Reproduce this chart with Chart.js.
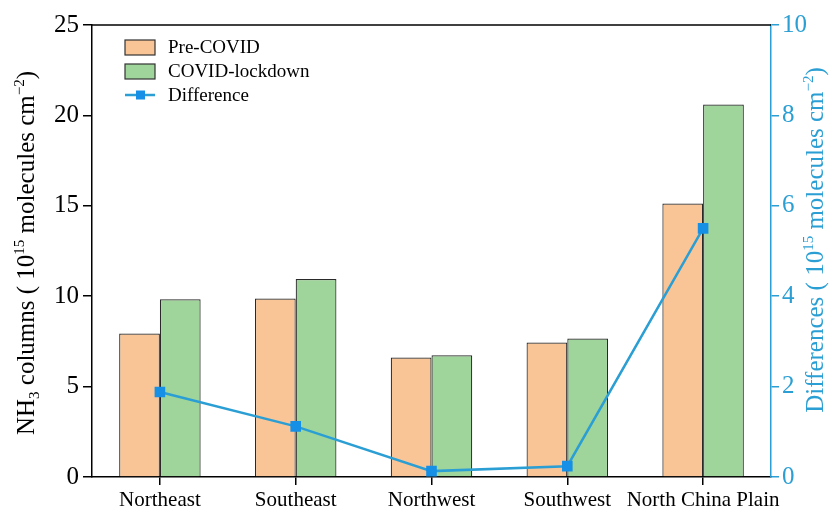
<!DOCTYPE html>
<html>
<head>
<meta charset="utf-8">
<script src="https://cdn.jsdelivr.net/npm/chart.js@4.4.1/dist/chart.umd.min.js"></script>
<style>
  html, body { margin: 0; padding: 0; background: #fff; }
  #wrap { width: 829px; height: 510px; position: relative; }
</style>
</head>
<body>
<div id="wrap"><canvas id="c" width="829" height="510"></canvas></div>
<script>
const categories = ['Northeast', 'Southeast', 'Northwest', 'Southwest', 'North China Plain'];
const preCovid = [7.94, 9.87, 6.61, 7.44, 15.13];
const covidLockdown = [9.83, 10.95, 6.73, 7.66, 20.6];
const difference = [1.88, 1.12, 0.13, 0.24, 5.5];
const leftTicks = [0, 5, 10, 15, 20, 25];
const rightTicks = [0, 2, 4, 6, 8, 10];
const leftTitle = [['NH', 0], ['3', -1], [' columns ( 10', 0], ['15', 1], [' molecules cm', 0], ['−2', 1], [')', 0]];
const rightTitle = [['Differences ( 10', 0], ['15', 1], [' molecules cm', 0], ['−2', 1], [')', 0]];

const SERIF = '"Liberation Serif", "Times New Roman", serif';
const BLUE = '#2b9fd4';
const PRE_COLOR = '#f9c597';
const GREEN_COLOR = '#9fd59a';

function drawRich(ctx, parts, cx, cy, size, color) {
  const small = Math.round(size * 0.6);
  ctx.save();
  ctx.translate(cx, cy);
  ctx.rotate(-Math.PI / 2);
  ctx.fillStyle = color;
  ctx.textBaseline = 'alphabetic';
  let total = 0;
  const widths = parts.map(([t, k]) => {
    ctx.font = (k ? small : size) + 'px ' + SERIF;
    const w = ctx.measureText(t).width;
    total += w;
    return w;
  });
  let x = -total / 2;
  const base = size * 0.33;
  parts.forEach(([t, k], i) => {
    ctx.font = (k ? small : size) + 'px ' + SERIF;
    const dy = k === 1 ? -size * 0.42 : (k === -1 ? size * 0.2 : 0);
    ctx.fillText(t, x, base + dy);
    x += widths[i];
  });
  ctx.restore();
}

const framePlugin = {
  id: 'frame',
  afterDatasetsDraw(chart) {
    const ctx = chart.ctx, a = chart.chartArea;
    ctx.save();
    ctx.strokeStyle = '#000';
    ctx.lineWidth = 1.5;
    ctx.beginPath();
    ctx.moveTo(a.left, a.top);
    ctx.lineTo(a.right, a.top);
    ctx.stroke();
    // legend
    const x0 = a.left + 33;
    const rows = [a.top + 22.5, a.top + 46.5, a.top + 70];
    const ds = chart.data.datasets;
    ctx.font = '19px ' + SERIF;
    ctx.textBaseline = 'middle';
    for (let i = 0; i < 2; i++) {
      ctx.fillStyle = ds[i].backgroundColor;
      ctx.fillRect(x0, rows[i] - 7.5, 30, 15);
      ctx.strokeStyle = '#333';
      ctx.lineWidth = 1.2;
      ctx.strokeRect(x0, rows[i] - 7.5, 30, 15);
      ctx.fillStyle = '#000';
      ctx.fillText(ds[i].label, x0 + 43, rows[i] + 1);
    }
    ctx.strokeStyle = BLUE;
    ctx.lineWidth = 2.5;
    ctx.beginPath();
    ctx.moveTo(x0, rows[2]);
    ctx.lineTo(x0 + 30, rows[2]);
    ctx.stroke();
    ctx.fillStyle = '#1590e6';
    ctx.fillRect(x0 + 11, rows[2] - 4.5, 9, 9);
    ctx.fillStyle = '#000';
    ctx.fillText(ds[2].label, x0 + 43, rows[2] + 1);
    ctx.restore();
  },
  afterDraw(chart) {
    const ctx = chart.ctx;
    drawRich(ctx, leftTitle, 26, 253, 25, '#000');
    drawRich(ctx, rightTitle, 815, 240, 25, BLUE);
  }
};

new Chart(document.getElementById('c'), {
  type: 'bar',
  data: {
    labels: categories,
    datasets: [
      { label: 'Pre-COVID', data: preCovid, backgroundColor: PRE_COLOR, borderColor: '#2a2a2a', borderWidth: 1.2, yAxisID: 'y', order: 2 },
      { label: 'COVID-lockdown', data: covidLockdown, backgroundColor: GREEN_COLOR, borderColor: '#2a2a2a', borderWidth: 1.2, yAxisID: 'y', order: 2 },
      { type: 'line', label: 'Difference', data: difference, borderColor: BLUE, borderWidth: 2.5,
        pointStyle: 'rect', pointRadius: 7.5, pointBackgroundColor: '#1590e6', pointBorderWidth: 0,
        yAxisID: 'y1', order: 0, tension: 0 }
    ]
  },
  options: {
    responsive: false,
    animation: false,
    devicePixelRatio: 1,
    layout: { padding: { left: 11, right: 0, top: 25, bottom: 0 } },
    categoryPercentage: 0.6,
    barPercentage: 1.0,
    plugins: { legend: { display: false }, tooltip: { enabled: false } },
    scales: {
      x: {
        grid: { display: true, drawOnChartArea: false, drawTicks: true, tickLength: 8, color: '#000', offset: false, lineWidth: 1.5 },
        border: { color: '#000', width: 1.5 },
        ticks: { color: '#000', font: { family: SERIF, size: 21 }, padding: 3, maxRotation: 0, autoSkip: false },
        afterFit(s) { s.height = 33; }
      },
      y: {
        position: 'left',
        min: 0, max: 25,
        afterBuildTicks(s) { s.ticks = leftTicks.map(v => ({ value: v })); },
        grid: { display: true, drawOnChartArea: false, drawTicks: true, tickLength: 9, color: '#000', lineWidth: 1.5 },
        border: { color: '#000', width: 1.5 },
        ticks: { color: '#000', font: { family: SERIF, size: 25 }, padding: 4 },
        afterFit(s) { s.width = 81; }
      },
      y1: {
        position: 'right',
        min: 0, max: 10,
        afterBuildTicks(s) { s.ticks = rightTicks.map(v => ({ value: v })); },
        grid: { display: true, drawOnChartArea: false, drawTicks: true, tickLength: 8, color: BLUE, lineWidth: 1.5 },
        border: { color: BLUE, width: 1.5 },
        ticks: { color: BLUE, font: { family: SERIF, size: 25 }, padding: 3 },
        afterFit(s) { s.width = 58; }
      }
    }
  },
  plugins: [framePlugin]
});
</script>
</body>
</html>
